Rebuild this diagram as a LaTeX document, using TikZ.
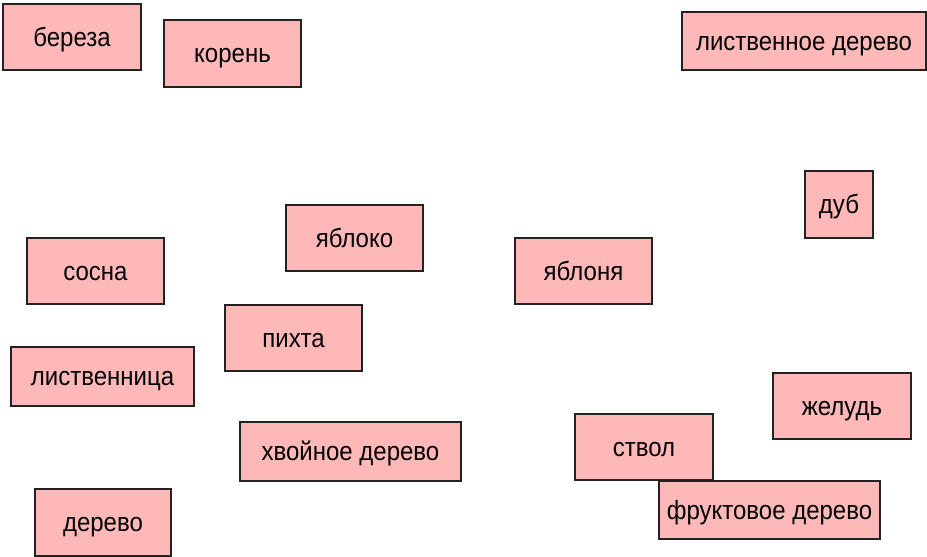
\documentclass[tikz,border=0pt]{standalone}
\usepackage{fontspec}
\setmainfont{Liberation Sans}
\definecolor{boxfill}{HTML}{FFB8B8}
\definecolor{boxline}{HTML}{222222}
\tikzset{
  card/.style={draw=boxline, line width=1.2pt, fill=boxfill, inner sep=0pt, font=\fontsize{24}{28}\selectfont, text=black},
}
\newcommand{\cardnode}[6]{% name, l, t, r, b, text
  \node[card, minimum width={(#4-#2)*1pt}, minimum height={(#5-#3)*1pt}] (#1) at ({(#2+#4)/2*1pt},{-(#3+#5)/2*1pt}) {\smash{\raisebox{-9.3pt}{\scalebox{1}[1.1]{#6}}}};
}
\begin{document}
\begin{tikzpicture}
\useasboundingbox (0,0) rectangle (927pt,-557pt);
\cardnode{bereza}{3}{4}{141}{70}{береза}
\cardnode{koren}{164}{20}{301}{87}{корень}
\cardnode{listv}{682}{12}{926}{70}{лиственное дерево}
\cardnode{dub}{805}{171}{873}{238}{дуб}
\cardnode{yabloko}{286}{205}{423}{271}{яблоко}
\cardnode{sosna}{27}{238}{164}{304}{сосна}
\cardnode{yablonya}{515}{238}{652}{304}{яблоня}
\cardnode{pihta}{225}{305}{362}{371}{пихта}
\cardnode{listvennica}{11}{347}{194}{406}{лиственница}
\cardnode{zhelud}{773}{373}{911}{439}{желудь}
\cardnode{hvoynoe}{240}{422}{461}{481}{хвойное дерево}
\cardnode{stvol}{575}{414}{713}{480}{ствол}
\cardnode{fruktovoe}{659}{481}{880}{539}{фруктовое дерево}
\cardnode{derevo}{35}{489}{171}{556}{дерево}
\end{tikzpicture}
\end{document}
